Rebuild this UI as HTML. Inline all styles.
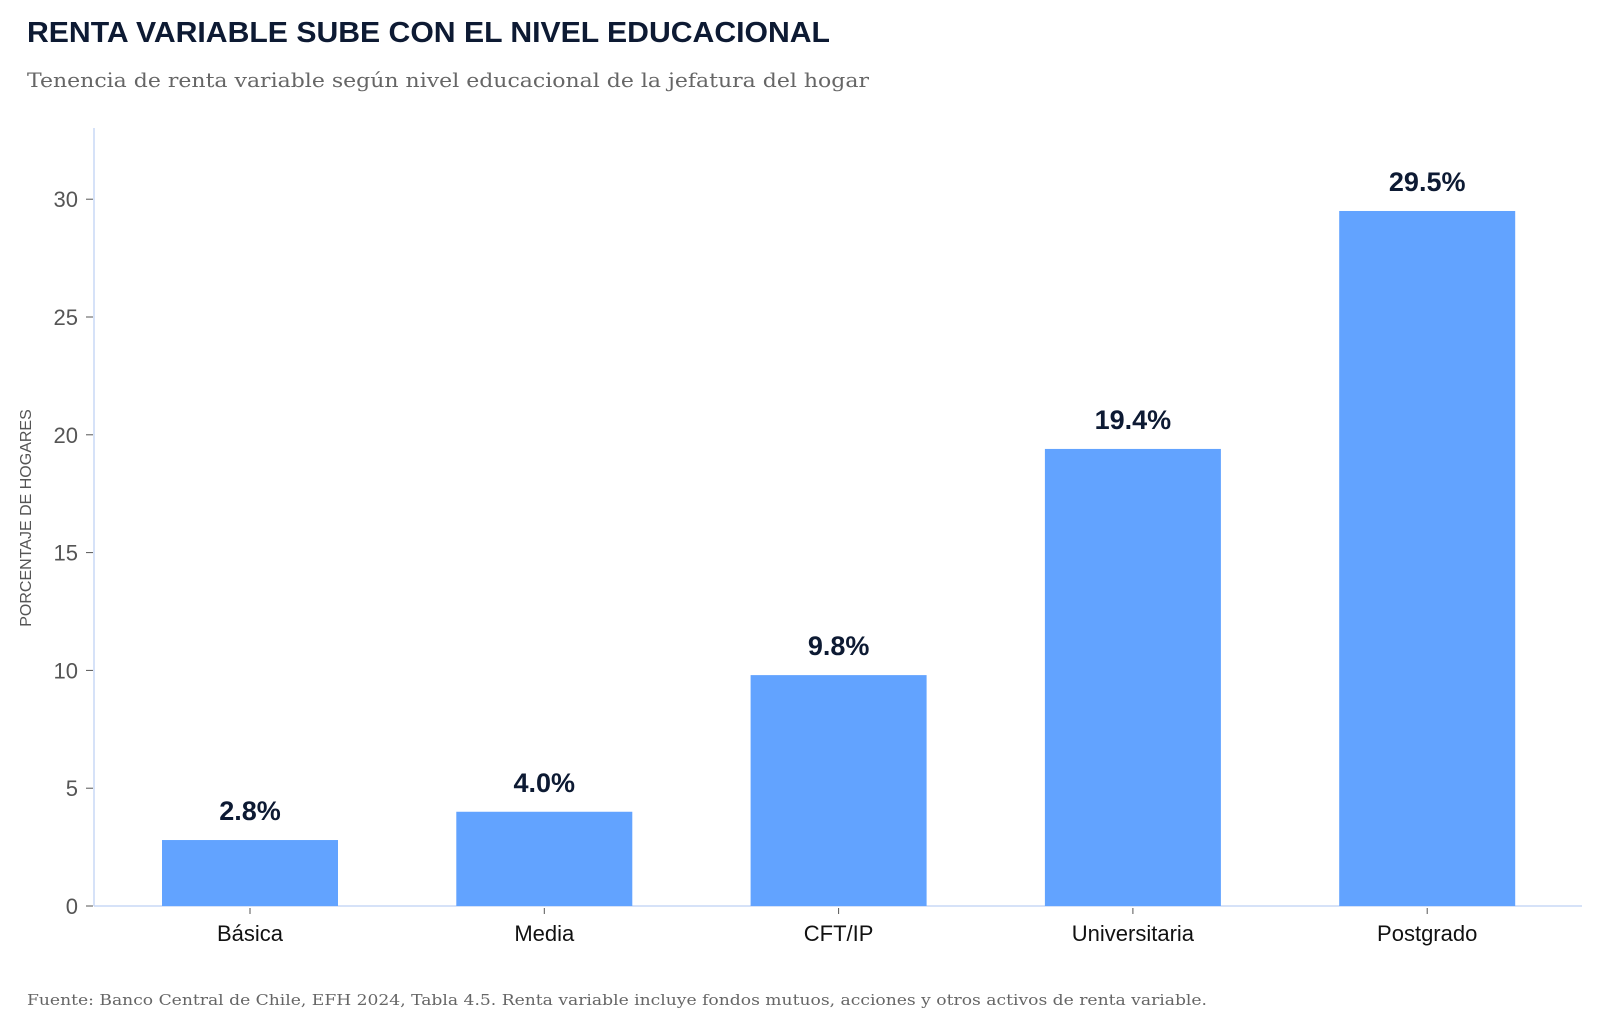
<!DOCTYPE html>
<html><head><meta charset="utf-8"><style>
body{margin:0;background:#fff;width:1600px;height:1027px;overflow:hidden}
svg text{font-family:"Liberation Sans",sans-serif}
</style></head><body>
<svg width="1600" height="1027">
<text x="27" y="42" font-size="29" font-weight="bold" fill="#0d1a33" textLength="803" lengthAdjust="spacingAndGlyphs">RENTA VARIABLE SUBE CON EL NIVEL EDUCACIONAL</text>
<text x="27" y="87" font-size="20" fill="#666" style="font-family:'DejaVu Serif',serif" textLength="842" lengthAdjust="spacingAndGlyphs">Tenencia de renta variable según nivel educacional de la jefatura del hogar</text>
<text transform="translate(31,518) rotate(-90)" text-anchor="middle" font-size="16" fill="#555">PORCENTAJE DE HOGARES</text>
<g id="plot"></g>
<text x="27" y="1005" font-size="15" fill="#666" style="font-family:'DejaVu Serif',serif" textLength="1180" lengthAdjust="spacingAndGlyphs">Fuente: Banco Central de Chile, EFH 2024, Tabla 4.5. Renta variable incluye fondos mutuos, acciones y otros activos de renta variable.</text>
</svg>
<script>
const categories=["Básica","Media","CFT/IP","Universitaria","Postgrado"];
const values=[2.8,4.0,9.8,19.4,29.5];
const yTicks=[0,5,10,15,20,25,30];
const NS="http://www.w3.org/2000/svg";
const g=document.getElementById('plot');
const y0=906,k=23.56,x0=250,step=294.3,bw=176;
const Y=v=>y0-v*k, X=i=>x0+i*step;
function mk(t,a){const e=document.createElementNS(NS,t);for(const n in a)e.setAttribute(n,a[n]);g.appendChild(e);return e;}
let ax=mk('line',{x1:94,y1:128,x2:94,y2:y0,stroke:'#c9d8f5','stroke-width':1.5});


let bx=mk('line',{x1:94,y1:y0,x2:1582,y2:y0,stroke:'#c9d8f5','stroke-width':1.5});


yTicks.forEach(v=>{
 mk('line',{x1:86,x2:93,y1:Y(v),y2:Y(v),stroke:'#555'});
 const t=mk('text',{x:78,y:Y(v)+8,'text-anchor':'end','font-size':22,fill:'#555'});t.textContent=v;
 
 
});
categories.forEach((c,i)=>{
 const r=mk('rect',{x:X(i)-bw/2,y:Y(values[i]),width:bw,height:values[i]*k,fill:'#62a3ff'});
 
 
 const v=mk('text',{x:X(i),y:Y(values[i])-20,'text-anchor':'middle','font-size':27,'font-weight':'bold',fill:'#0d1a33'});
 v.textContent=values[i].toFixed(1)+'%';
 
 
 mk('line',{x1:X(i),x2:X(i),y1:y0+2,y2:y0+8,stroke:'#555'});
 const l=mk('text',{x:X(i),y:941,'text-anchor':'middle','font-size':22,fill:'#111'});
 l.textContent=c;
 
 
});
</script>
</body></html>
